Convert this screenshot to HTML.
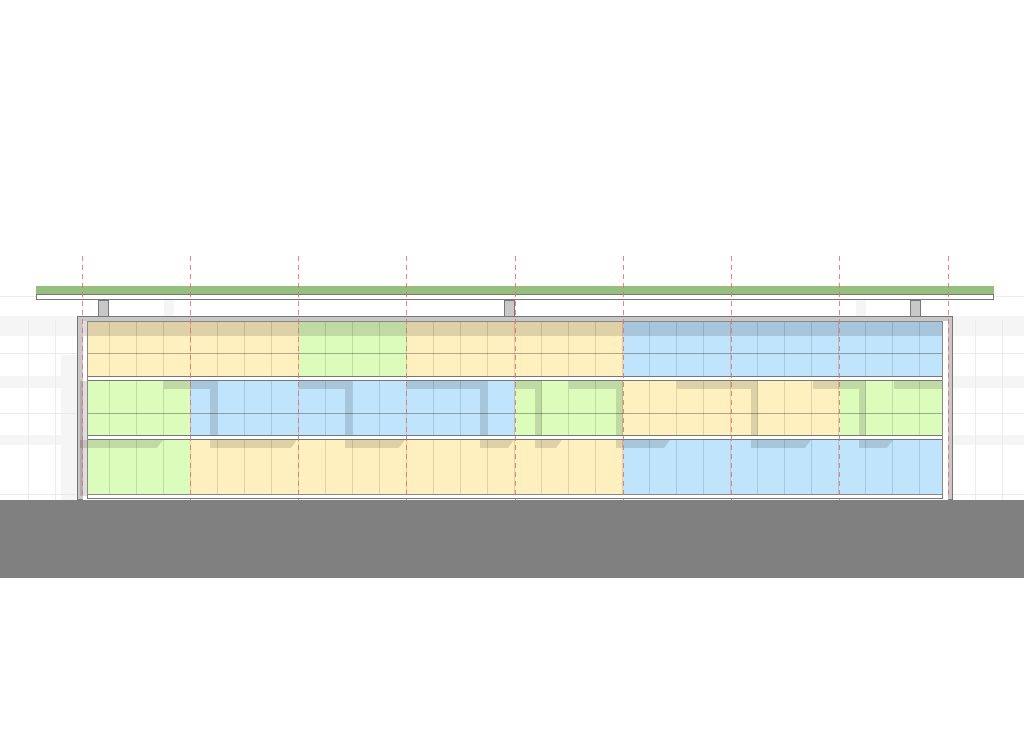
<!DOCTYPE html>
<html><head><style>html,body{margin:0;padding:0;background:#fff}svg{display:block}</style></head>
<body>
<svg width="1024" height="731" viewBox="0 0 1024 731" xmlns="http://www.w3.org/2000/svg">
<g fill="#f5f5f5">
<rect x="0" y="316" width="77" height="20"/><rect x="953" y="316" width="71" height="20"/>
<rect x="0" y="376" width="77" height="12"/><rect x="953" y="376" width="71" height="12"/>
<rect x="0" y="435" width="77" height="10"/><rect x="953" y="435" width="71" height="10"/>
<rect x="61" y="355" width="16" height="145"/>
<rect x="164" y="300" width="10" height="16"/><rect x="856" y="300" width="10" height="16"/>
</g>
<g stroke="#ececec" stroke-width="1">
<line x1="0" y1="353.5" x2="77" y2="353.5"/><line x1="953" y1="353.5" x2="1024" y2="353.5"/>
<line x1="0" y1="413.5" x2="77" y2="413.5"/><line x1="953" y1="413.5" x2="1024" y2="413.5"/>
<line x1="0" y1="494.5" x2="77" y2="494.5"/><line x1="953" y1="494.5" x2="1024" y2="494.5"/>
<line x1="28.5" y1="320" x2="28.5" y2="500"/><line x1="55.5" y1="320" x2="55.5" y2="500"/>
<line x1="975.5" y1="320" x2="975.5" y2="500"/><line x1="1002.5" y1="320" x2="1002.5" y2="500"/>
<line x1="0" y1="296.5" x2="36" y2="296.5"/><line x1="994" y1="296.5" x2="1024" y2="296.5"/>
</g>
<rect x="36" y="286" width="958" height="8" fill="#95bf7c"/>
<rect x="36.5" y="294.5" width="957" height="5" fill="#fff" stroke="#777"/>
<g fill="#c8c8c8" stroke="#777"><rect x="98.5" y="300.5" width="10" height="16"/><rect x="504.5" y="300.5" width="10" height="16"/><rect x="910.5" y="300.5" width="10" height="16"/></g>
<rect x="77.5" y="316.5" width="875" height="183" fill="#c8c8c8" stroke="#777"/>
<rect x="83" y="321" width="865" height="179" fill="#fff"/>
<rect x="87" y="321" width="212" height="55" fill="#fff0c0"/>
<rect x="299" y="321" width="108" height="55" fill="#dcfcbc"/>
<rect x="407" y="321" width="216" height="55" fill="#fff0c0"/>
<rect x="623" y="321" width="320" height="55" fill="#c0e4fc"/>
<rect x="87" y="381" width="103" height="54" fill="#dcfcbc"/>
<rect x="190" y="381" width="325" height="54" fill="#c0e4fc"/>
<rect x="515" y="381" width="108" height="54" fill="#dcfcbc"/>
<rect x="623" y="381" width="216" height="54" fill="#fff0c0"/>
<rect x="839" y="381" width="104" height="54" fill="#dcfcbc"/>
<rect x="87" y="440" width="103" height="54" fill="#dcfcbc"/>
<rect x="190" y="440" width="433" height="54" fill="#fff0c0"/>
<rect x="623" y="440" width="320" height="54" fill="#c0e4fc"/>
<g stroke="rgba(0,0,0,0.12)" stroke-width="1">
<path d="M109.5 321V494M136.5 321V494M163.5 321V494M190.5 321V494M217.5 321V494M244.5 321V494M271.5 321V494M298.5 321V494M325.5 321V494M352.5 321V494M379.5 321V494M406.5 321V494M433.5 321V494M460.5 321V494M487.5 321V494M514.5 321V494M541.5 321V494M568.5 321V494M595.5 321V494M622.5 321V494M649.5 321V494M676.5 321V494M703.5 321V494M730.5 321V494M757.5 321V494M784.5 321V494M811.5 321V494M838.5 321V494M865.5 321V494M892.5 321V494M919.5 321V494"/>
</g>
<g stroke="rgba(0,0,0,0.3)"><line x1="87" y1="353.5" x2="943" y2="353.5"/><line x1="87" y1="413.5" x2="943" y2="413.5"/></g>
<g fill="rgba(0,0,0,0.13)">
<rect x="83" y="321" width="860" height="15"/>
<rect x="80" y="381" width="7" height="115"/>
<path d="M164 381h53v59h-7v-51h-46z"/>
<path d="M299 381h53v59h-7v-51h-46z"/>
<path d="M407 381h80v59h-7v-51h-73z"/>
<path d="M515 381h27v59h-7v-51h-20z"/>
<path d="M569 381h54v59h-7v-51h-47z"/>
<path d="M677 381h81v59h-7v-51h-74z"/>
<path d="M813 381h53v59h-7v-51h-46z"/>
<path d="M894 381h49v8h-49z"/>
<path d="M80 440h83l-6 8h-77z"/>
<path d="M210 440h87l-6 8h-81z"/>
<path d="M345 440h60l-6 8h-54z"/>
<path d="M480 440h34l-6 8h-28z"/>
<path d="M535 440h27l-6 8h-21z"/>
<path d="M616 440h54l-6 8h-48z"/>
<path d="M751 440h60l-6 8h-54z"/>
<path d="M859 440h34l-6 8h-28z"/>
</g>
<g fill="#fff" stroke="#777">
<rect x="87.5" y="376.5" width="855" height="4"/>
<rect x="87.5" y="435.5" width="855" height="4"/>
<rect x="87.5" y="494.5" width="855" height="4"/>
</g>
<rect x="87.5" y="321.5" width="855" height="173" fill="none" stroke="#888"/>
<rect x="0" y="500" width="1024" height="78" fill="#808080"/>
<g stroke="#f46a6a" stroke-width="1" stroke-dasharray="5,4" opacity="0.85">
<line x1="82.5" y1="256" x2="82.5" y2="500"/><line x1="190.5" y1="256" x2="190.5" y2="500"/>
<line x1="298.5" y1="256" x2="298.5" y2="500"/><line x1="406.5" y1="256" x2="406.5" y2="500"/>
<line x1="515.5" y1="256" x2="515.5" y2="500"/><line x1="623.5" y1="256" x2="623.5" y2="500"/>
<line x1="731.5" y1="256" x2="731.5" y2="500"/><line x1="839.5" y1="256" x2="839.5" y2="500"/>
<line x1="948.5" y1="256" x2="948.5" y2="500"/>
</g>
</svg>
</body></html>
